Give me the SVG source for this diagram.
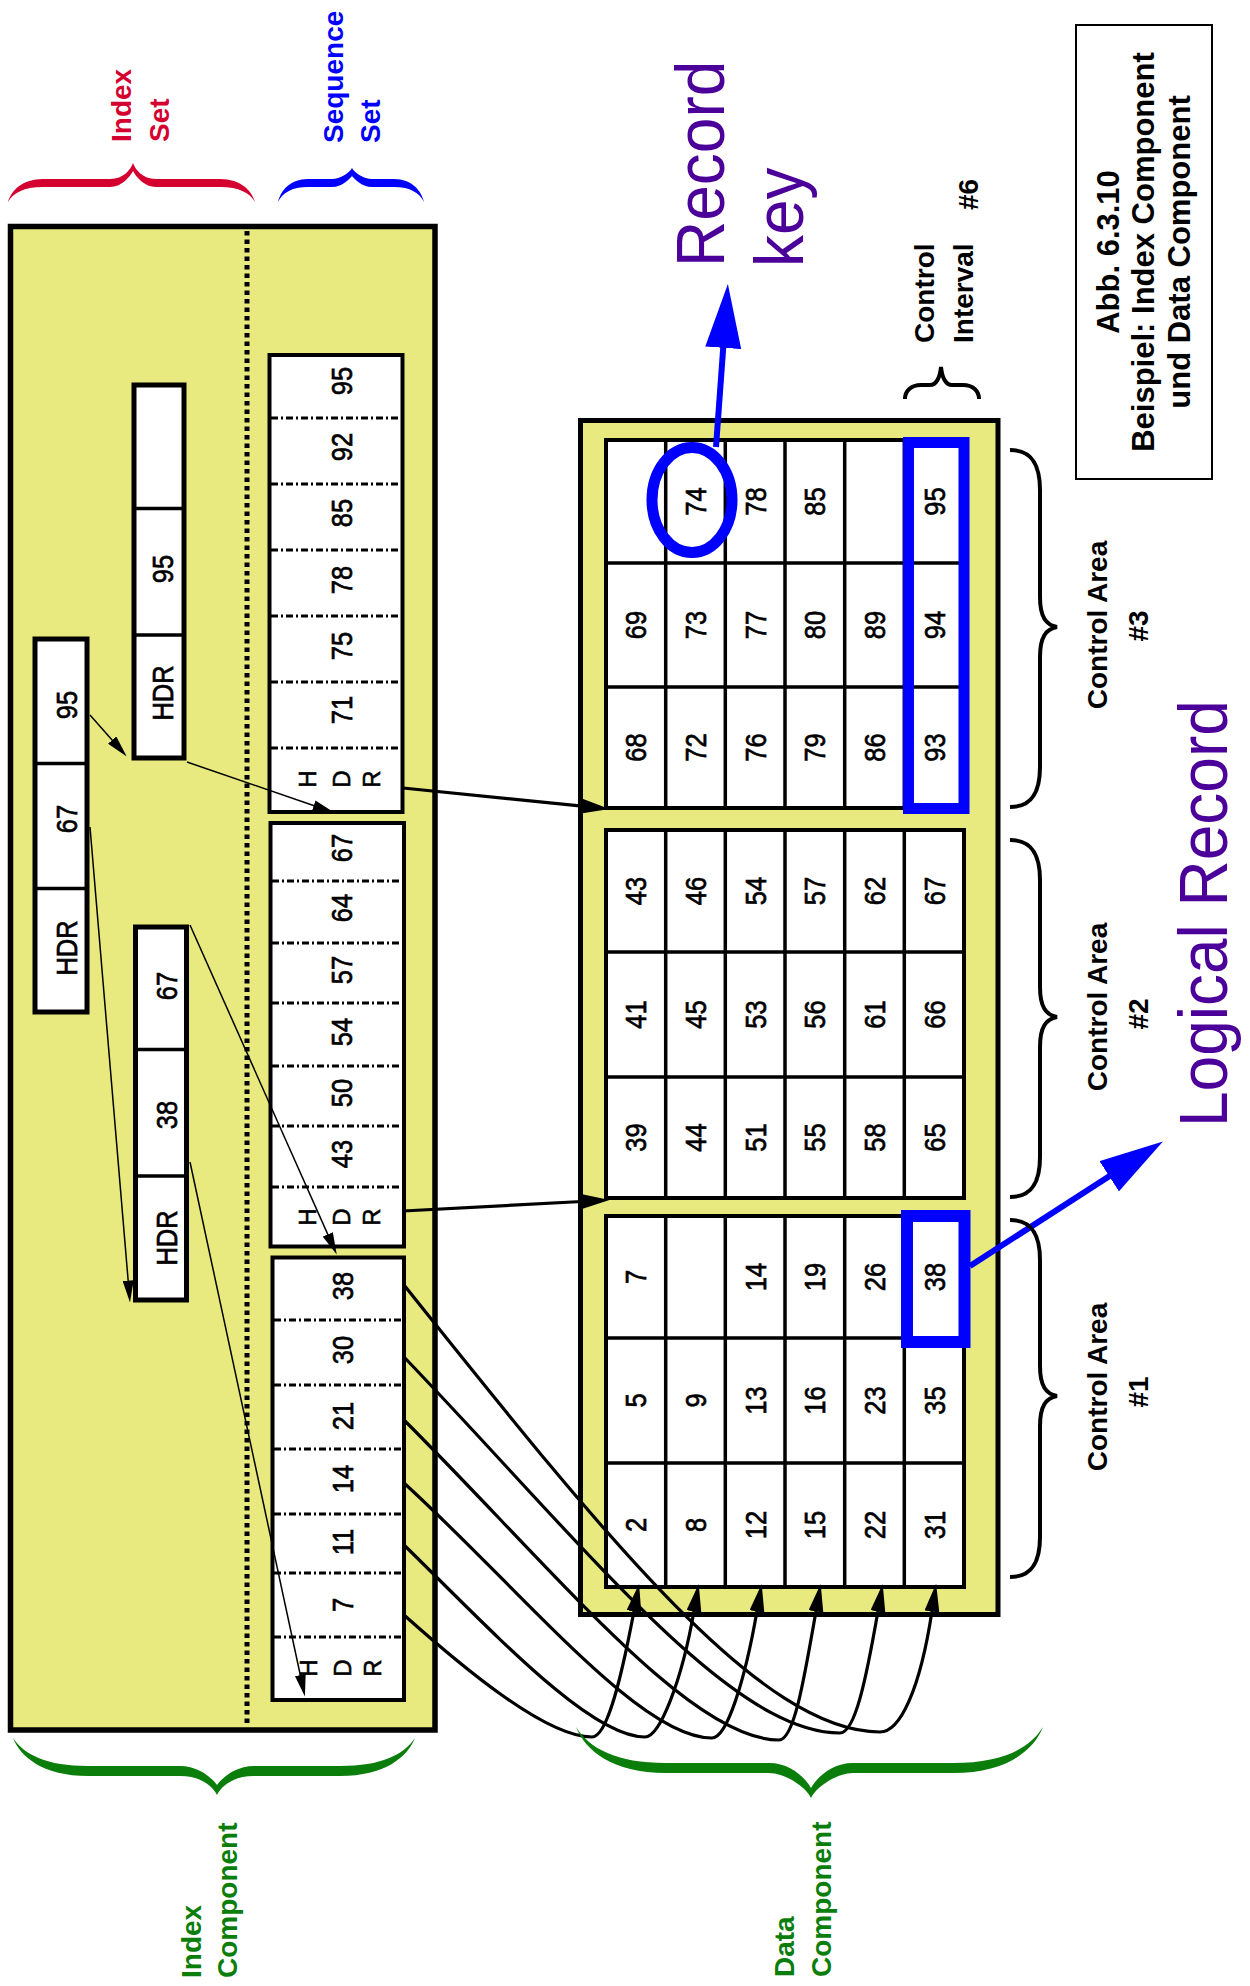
<svg xmlns="http://www.w3.org/2000/svg" width="1250" height="1986" viewBox="0 0 1250 1986">
<style>
text { font-family: "Liberation Sans", Arial, Helvetica, sans-serif; }
.n { font-size: 25.5px; text-anchor: middle; fill: #000; stroke: #000; stroke-width: 0.6; }
.hl { font-size: 24px; text-anchor: middle; fill: #000; stroke: #000; stroke-width: 0.6; }
.lbl { font-size: 28px; font-weight: bold; }
.ca { font-size: 28px; font-weight: bold; text-anchor: middle; fill: #000; }
.ttl { font-size: 31px; font-weight: bold; text-anchor: middle; fill: #000; }
.big { font-size: 64px; fill: #4b0099; }
.yel { fill: #e8ea80; stroke: #000; }
.cell { fill: #fff; stroke: #000; }
.sep { stroke: #000; stroke-width: 3; stroke-dasharray: 7 3 2 3; }
.grid { stroke: #000; stroke-width: 3.5; fill: none; }
.thin { stroke: #000; stroke-width: 1.5; fill: none; marker-end: url(#ah-thin); }
.conn { stroke: #000; stroke-width: 3.2; fill: none; marker-end: url(#ah-med); }
.blue { stroke: #0000ff; stroke-width: 6; fill: none; marker-end: url(#ah-blue); }
.brace { fill: none; stroke: #000; stroke-width: 4; }
.hi { fill: none; stroke: #0000ff; }
</style>
<defs>
<marker id="ah-thin" viewBox="0 0 22 11" refX="0.5" refY="5.5" markerUnits="userSpaceOnUse" markerWidth="22" markerHeight="11" orient="auto"><path d="M0,0 L22,5.5 L0,11 z" fill="#000"/></marker>
<marker id="ah-med" viewBox="0 0 28 15" refX="0.5" refY="7.5" markerUnits="userSpaceOnUse" markerWidth="28" markerHeight="15" orient="auto"><path d="M0,0 L28,7.5 L0,15 z" fill="#000"/></marker>
<marker id="ah-blue" viewBox="0 0 64 36" refX="1" refY="18" markerUnits="userSpaceOnUse" markerWidth="64" markerHeight="36" orient="auto"><path d="M0,0 L64,18 L0,36 z" fill="#0000ff"/></marker>
</defs>

<g id="index-component">
<rect class="yel" x="10.5" y="226.5" width="424.5" height="1503.5" stroke-width="5.5"/>
<line x1="247" y1="231" x2="247" y2="1727" stroke="#000" stroke-width="5" stroke-dasharray="4.5 4"/>
</g>

<g id="index-top">
<rect class="cell" x="35" y="639" width="52" height="373" stroke-width="5"/>
<path class="grid" d="M35,763.5H87M35,888.5H87"/>
<text class="n" transform="translate(77,705) rotate(-90) scale(1,1.14)">95</text>
<text class="n" transform="translate(77,819) rotate(-90) scale(1,1.14)">67</text>
<text class="n" transform="translate(77,948) rotate(-90) scale(1,1.14)">HDR</text>
</g>

<g id="index-a">
<rect class="cell" x="134" y="385" width="50" height="373" stroke-width="5"/>
<path class="grid" d="M134,508.5H184M134,635H184"/>
<text class="n" transform="translate(173,569) rotate(-90) scale(1,1.14)">95</text>
<text class="n" transform="translate(173,693) rotate(-90) scale(1,1.14)">HDR</text>
</g>

<g id="index-b">
<rect class="cell" x="135.5" y="927" width="51" height="373" stroke-width="5"/>
<path class="grid" d="M135.5,1049.5H186.5M135.5,1176H186.5"/>
<text class="n" transform="translate(177,986) rotate(-90) scale(1,1.14)">67</text>
<text class="n" transform="translate(177,1115) rotate(-90) scale(1,1.14)">38</text>
<text class="n" transform="translate(177,1238) rotate(-90) scale(1,1.14)">HDR</text>
</g>

<g id="seq-1">
<rect class="cell" x="269.5" y="355" width="133" height="457" stroke-width="4"/>
<path class="sep" d="M271,418H401M271,484H401M271,550H401M271,616H401M271,682H401M271,748H401"/>
<text class="n" transform="translate(352,381) rotate(-90) scale(1,1.14)">95</text>
<text class="n" transform="translate(352,447) rotate(-90) scale(1,1.14)">92</text>
<text class="n" transform="translate(352,513) rotate(-90) scale(1,1.14)">85</text>
<text class="n" transform="translate(352,580) rotate(-90) scale(1,1.14)">78</text>
<text class="n" transform="translate(352,646) rotate(-90) scale(1,1.14)">75</text>
<text class="n" transform="translate(352,710) rotate(-90) scale(1,1.14)">71</text>
<text class="hl" transform="translate(316,779) rotate(-90)">H</text>
<text class="hl" transform="translate(350,779) rotate(-90)">D</text>
<text class="hl" transform="translate(380,779) rotate(-90)">R</text>
</g>

<g id="seq-2">
<rect class="cell" x="270.5" y="823" width="133.5" height="423.5" stroke-width="4"/>
<path class="sep" d="M272,881H402M272,943H402M272,1003H402M272,1066H402M272,1126H402M272,1187H402"/>
<text class="n" transform="translate(352,848) rotate(-90) scale(1,1.14)">67</text>
<text class="n" transform="translate(352,908) rotate(-90) scale(1,1.14)">64</text>
<text class="n" transform="translate(352,970) rotate(-90) scale(1,1.14)">57</text>
<text class="n" transform="translate(352,1032) rotate(-90) scale(1,1.14)">54</text>
<text class="n" transform="translate(352,1093) rotate(-90) scale(1,1.14)">50</text>
<text class="n" transform="translate(352,1154) rotate(-90) scale(1,1.14)">43</text>
<text class="hl" transform="translate(316,1217) rotate(-90)">H</text>
<text class="hl" transform="translate(350,1217) rotate(-90)">D</text>
<text class="hl" transform="translate(380,1217) rotate(-90)">R</text>
</g>

<g id="seq-3">
<rect class="cell" x="272.5" y="1257.5" width="131.5" height="442.5" stroke-width="4"/>
<path class="sep" d="M274,1320H402M274,1385H402M274,1449H402M274,1514H402M274,1573H402M274,1637H402"/>
<text class="n" transform="translate(353,1286) rotate(-90) scale(1,1.14)">38</text>
<text class="n" transform="translate(353,1350) rotate(-90) scale(1,1.14)">30</text>
<text class="n" transform="translate(353,1416) rotate(-90) scale(1,1.14)">21</text>
<text class="n" transform="translate(353,1479) rotate(-90) scale(1,1.14)">14</text>
<text class="n" transform="translate(353,1542) rotate(-90) scale(1,1.14)">11</text>
<text class="n" transform="translate(353,1605) rotate(-90) scale(1,1.14)">7</text>
<text class="hl" transform="translate(317,1668) rotate(-90)">H</text>
<text class="hl" transform="translate(351,1668) rotate(-90)">D</text>
<text class="hl" transform="translate(381,1668) rotate(-90)">R</text>
</g>

<g id="data-component">
<rect class="yel" x="580.5" y="420.5" width="417.5" height="1194" stroke-width="5"/>
</g>

<g id="control-area-3">
<rect class="cell" x="606" y="440" width="358" height="368" stroke-width="4"/>
<path class="grid" d="M665.7,440V808M725.3,440V808M785,440V808M844.7,440V808M904.3,440V808M606,563H964M606,687H964"/>
<text class="n" transform="translate(646,625) rotate(-90) scale(1,1.14)">69</text>
<text class="n" transform="translate(646,747.5) rotate(-90) scale(1,1.14)">68</text>
<text class="n" transform="translate(706,501.5) rotate(-90) scale(1,1.14)">74</text>
<text class="n" transform="translate(706,625) rotate(-90) scale(1,1.14)">73</text>
<text class="n" transform="translate(706,747.5) rotate(-90) scale(1,1.14)">72</text>
<text class="n" transform="translate(766,501.5) rotate(-90) scale(1,1.14)">78</text>
<text class="n" transform="translate(766,625) rotate(-90) scale(1,1.14)">77</text>
<text class="n" transform="translate(766,747.5) rotate(-90) scale(1,1.14)">76</text>
<text class="n" transform="translate(825,501.5) rotate(-90) scale(1,1.14)">85</text>
<text class="n" transform="translate(825,625) rotate(-90) scale(1,1.14)">80</text>
<text class="n" transform="translate(825,747.5) rotate(-90) scale(1,1.14)">79</text>
<text class="n" transform="translate(885,625) rotate(-90) scale(1,1.14)">89</text>
<text class="n" transform="translate(885,747.5) rotate(-90) scale(1,1.14)">86</text>
<text class="n" transform="translate(945,501.5) rotate(-90) scale(1,1.14)">95</text>
<text class="n" transform="translate(945,625) rotate(-90) scale(1,1.14)">94</text>
<text class="n" transform="translate(945,747.5) rotate(-90) scale(1,1.14)">93</text>
<rect class="hi" x="908.5" y="442.5" width="55.5" height="366" stroke-width="11"/>
<ellipse class="hi" cx="692" cy="500" rx="40" ry="52.5" stroke-width="11"/>
</g>

<g id="control-area-2">
<rect class="cell" x="606" y="830" width="358" height="368" stroke-width="4"/>
<path class="grid" d="M665.7,830V1198M725.3,830V1198M785,830V1198M844.7,830V1198M904.3,830V1198M606,952H964M606,1077H964"/>
<text class="n" transform="translate(646,891) rotate(-90) scale(1,1.14)">43</text>
<text class="n" transform="translate(646,1014.5) rotate(-90) scale(1,1.14)">41</text>
<text class="n" transform="translate(646,1137.5) rotate(-90) scale(1,1.14)">39</text>
<text class="n" transform="translate(706,891) rotate(-90) scale(1,1.14)">46</text>
<text class="n" transform="translate(706,1014.5) rotate(-90) scale(1,1.14)">45</text>
<text class="n" transform="translate(706,1137.5) rotate(-90) scale(1,1.14)">44</text>
<text class="n" transform="translate(766,891) rotate(-90) scale(1,1.14)">54</text>
<text class="n" transform="translate(766,1014.5) rotate(-90) scale(1,1.14)">53</text>
<text class="n" transform="translate(766,1137.5) rotate(-90) scale(1,1.14)">51</text>
<text class="n" transform="translate(825,891) rotate(-90) scale(1,1.14)">57</text>
<text class="n" transform="translate(825,1014.5) rotate(-90) scale(1,1.14)">56</text>
<text class="n" transform="translate(825,1137.5) rotate(-90) scale(1,1.14)">55</text>
<text class="n" transform="translate(885,891) rotate(-90) scale(1,1.14)">62</text>
<text class="n" transform="translate(885,1014.5) rotate(-90) scale(1,1.14)">61</text>
<text class="n" transform="translate(885,1137.5) rotate(-90) scale(1,1.14)">58</text>
<text class="n" transform="translate(945,891) rotate(-90) scale(1,1.14)">67</text>
<text class="n" transform="translate(945,1014.5) rotate(-90) scale(1,1.14)">66</text>
<text class="n" transform="translate(945,1137.5) rotate(-90) scale(1,1.14)">65</text>
</g>

<g id="control-area-1">
<rect class="cell" x="606" y="1216" width="358" height="371" stroke-width="4"/>
<path class="grid" d="M665.7,1216V1587M725.3,1216V1587M785,1216V1587M844.7,1216V1587M904.3,1216V1587M606,1338H964M606,1463H964"/>
<text class="n" transform="translate(646,1277) rotate(-90) scale(1,1.14)">7</text>
<text class="n" transform="translate(646,1400.5) rotate(-90) scale(1,1.14)">5</text>
<text class="n" transform="translate(646,1525) rotate(-90) scale(1,1.14)">2</text>
<text class="n" transform="translate(706,1400.5) rotate(-90) scale(1,1.14)">9</text>
<text class="n" transform="translate(706,1525) rotate(-90) scale(1,1.14)">8</text>
<text class="n" transform="translate(766,1277) rotate(-90) scale(1,1.14)">14</text>
<text class="n" transform="translate(766,1400.5) rotate(-90) scale(1,1.14)">13</text>
<text class="n" transform="translate(766,1525) rotate(-90) scale(1,1.14)">12</text>
<text class="n" transform="translate(825,1277) rotate(-90) scale(1,1.14)">19</text>
<text class="n" transform="translate(825,1400.5) rotate(-90) scale(1,1.14)">16</text>
<text class="n" transform="translate(825,1525) rotate(-90) scale(1,1.14)">15</text>
<text class="n" transform="translate(885,1277) rotate(-90) scale(1,1.14)">26</text>
<text class="n" transform="translate(885,1400.5) rotate(-90) scale(1,1.14)">23</text>
<text class="n" transform="translate(885,1525) rotate(-90) scale(1,1.14)">22</text>
<text class="n" transform="translate(945,1277) rotate(-90) scale(1,1.14)">38</text>
<text class="n" transform="translate(945,1400.5) rotate(-90) scale(1,1.14)">35</text>
<text class="n" transform="translate(945,1525) rotate(-90) scale(1,1.14)">31</text>
<rect class="hi" x="907" y="1216" width="57.5" height="126" stroke-width="12"/>
</g>

<g id="connectors">
<path class="thin" d="M90,715 L112.5,740.5"/>
<path class="thin" d="M187,762 L314.2,805.8"/>
<path class="thin" d="M90,827 L128.2,1281.1"/>
<path class="thin" d="M190,925 L328,1234.9"/>
<path class="thin" d="M190,1162 L300.4,1675.5"/>
<path class="conn" d="M403,788 L582.1,806.2"/>
<path class="conn" d="M403,1211 L582,1201.5"/>
<path class="conn" d="M404,1615 C460,1665 545,1737 592,1737 C607,1737 621,1680 634,1611"/>
<path class="conn" d="M404,1545 C494,1633 590,1737 645,1737 C660,1737 682,1680 694,1611"/>
<path class="conn" d="M404,1483 C524,1593 640,1738 712,1738 C727,1738 745,1680 757,1611"/>
<path class="conn" d="M404,1420 C554,1570 690,1740 779,1740 C794,1740 804,1680 816,1611"/>
<path class="conn" d="M404,1357 C584,1545 730,1733 840,1733 C855,1733 866,1680 878,1611"/>
<path class="conn" d="M404,1285 C604,1535 760,1732 880,1732 C900,1732 920,1690 932,1611"/>
<path class="blue" d="M716,447 L723.3,346.8"/>
<path class="blue" d="M970,1266 L1110,1175.7"/>
</g>

<g id="braces">
<path fill="#d40030" d="M8,202 C11.5,190.5 22,179 43,179 L110,179 C123.8,179 130.7,169.4 133,163 C135.3,169.4 142.2,179 156,179 L220,179 C241,179 251.5,190.5 255,202 C249.75,193 239.25,187 220,187 L156,187 C144.5,187 136.45,177.4 133,171 C129.55,177.4 121.5,187 110,187 L43,187 C23.75,187 13.25,193 8,202 Z"/>
<path fill="#0000ff" d="M278,202 C281,190.5 290,179 308,179 L332,179 C340,179 350,172.4 352,168 C354,172.4 364,179 372,179 L394,179 C412,179 421,190.5 424,202 C419.5,193 410.5,187 394,187 L372,187 C362,187 355,179.4 352,176 C349,179.4 342,187 332,187 L308,187 C291.5,187 282.5,193 278,202 Z"/>
<path fill="#0b7d0b" d="M13,1738 C20.5,1757 43,1776 88,1776 L180,1776 C202.2,1776 213.3,1787.4 217,1795 C220.7,1787.4 231.8,1776 254,1776 L340,1776 C385,1776 407.5,1757 415,1738 C403.75,1754.8 381.25,1766 340,1766 L254,1766 C235.5,1766 222.55,1777.6 217,1785 C211.45,1777.6 198.5,1766 180,1766 L88,1766 C46.75,1766 24.25,1754.8 13,1738 Z"/>
<path fill="#0b7d0b" d="M576,1727 C585,1750 612,1773 666,1773 L769,1773 C785.8,1773 806.8,1788 811,1798 C815.2,1788 836.2,1773 853,1773 L953,1773 C1007,1773 1034,1750 1043,1727 C1029.5,1748.6 1002.5,1763 953,1763 L853,1763 C832,1763 817.3,1777 811,1788 C804.7,1777 790,1763 769,1763 L666,1763 C616.5,1763 589.5,1748.6 576,1727 Z"/>
<path class="brace" d="M1010,450 C1030,450 1040,462 1040,490 L1040,597 C1040,617 1046,625 1057,627 C1046,629 1040,637 1040,657 L1040,767 C1040,795 1030,807 1010,807"/>
<path class="brace" d="M1010,840 C1030,840 1040,852 1040,880 L1040,987 C1040,1007 1046,1015 1057,1017 C1046,1019 1040,1027 1040,1047 L1040,1157 C1040,1185 1030,1197 1010,1197"/>
<path class="brace" d="M1010,1220 C1030,1220 1040,1232 1040,1260 L1040,1366 C1040,1386 1046,1394 1057,1396 C1046,1398 1040,1406 1040,1426 L1040,1537 C1040,1565 1030,1577 1010,1577"/>
<path class="brace" d="M905,399 C905,391 911,385 921,385 L930,385 C936,385 940,378 941,367 C942,378 946,385 952,385 L963,385 C973,385 979,391 979,399"/>
</g>

<g id="labels">
<text class="lbl" fill="#d40030" transform="translate(131,142) rotate(-90)">Index</text>
<text class="lbl" fill="#d40030" transform="translate(169,142) rotate(-90)">Set</text>
<text class="lbl" fill="#0000ff" transform="translate(343,143) rotate(-90)">Sequence</text>
<text class="lbl" fill="#0000ff" transform="translate(380,143) rotate(-90)">Set</text>
<text class="lbl" fill="#0b7d0b" transform="translate(201,1978) rotate(-90)">Index</text>
<text class="lbl" fill="#0b7d0b" transform="translate(237,1978) rotate(-90)">Component</text>
<text class="lbl" fill="#0b7d0b" transform="translate(794,1977) rotate(-90)">Data</text>
<text class="lbl" fill="#0b7d0b" transform="translate(831,1977) rotate(-90)">Component</text>
<text class="ca" transform="translate(1107,625) rotate(-90)">Control Area</text>
<text class="ca" transform="translate(1148,626) rotate(-90)">#3</text>
<text class="ca" transform="translate(1107,1007) rotate(-90)">Control Area</text>
<text class="ca" transform="translate(1148,1014) rotate(-90)">#2</text>
<text class="ca" transform="translate(1107,1387) rotate(-90)">Control Area</text>
<text class="ca" transform="translate(1148,1392) rotate(-90)">#1</text>
<text class="lbl" fill="#000" transform="translate(934,343) rotate(-90)">Control</text>
<text class="lbl" fill="#000" transform="translate(973,343) rotate(-90)">Interval</text>
<text class="lbl" fill="#000" transform="translate(978,210) rotate(-90)">#6</text>
<text class="big" transform="translate(724,267) rotate(-90) scale(1,1.06)">Record</text>
<text class="big" transform="translate(803,267) rotate(-90) scale(1,1.06)">key</text>
<text class="big" transform="translate(1227,1127) rotate(-90) scale(1,1.06)">Logical Record</text>
</g>

<g id="title">
<rect x="1076" y="25" width="136" height="454" fill="none" stroke="#000" stroke-width="2"/>
<text class="ttl" transform="translate(1119,252) rotate(-90)">Abb. 6.3.10</text>
<text class="ttl" transform="translate(1154,252) rotate(-90)">Beispiel: Index Component</text>
<text class="ttl" transform="translate(1190,252) rotate(-90)">und Data Component</text>
</g>
</svg>
